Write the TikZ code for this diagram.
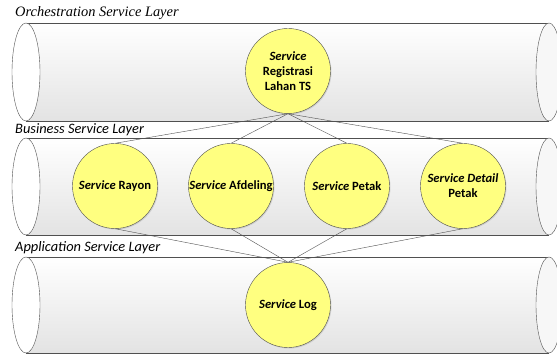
\documentclass[tikz,border=0pt]{standalone}
\usepackage{fontspec}
\setmainfont{Liberation Serif}
\setsansfont{Carlito}
\usepackage{xcolor}
\definecolor{svcyellow}{HTML}{FFFF80}
\definecolor{svcline}{HTML}{505050}
\usetikzlibrary{shadows}

\begin{document}
\begin{tikzpicture}[x=1pt,y=-1pt,node distance=116pt]
  \tikzstyle{svc}=[circle,draw=svcline,thin,fill=svcyellow,minimum size=85pt,inner sep=0pt,align=center,
                   font=\sffamily\bfseries\fontsize{12.6}{15}\selectfont,drop shadow={opacity=0.25,shadow xshift=1pt,shadow yshift=-1pt}]
  \tikzstyle{layer}=[anchor=west,inner sep=0pt,font=\sffamily\itshape\fontsize{14.4}{16}\selectfont]
  \tikzstyle{tube}=[draw=svcline,thin]
  \tikzstyle{e}=[draw=svcline,thin]

  \useasboundingbox (0,0) rectangle (557,358);

  % the three layers
  \foreach \t/\b in {23/121,138/235,257/353}{
    \fill[top color=white,bottom color=gray!22] (26,\t) rectangle (549,\b);
    \draw[tube] (26,\t) -- (549,\t) (26,\b) -- (549,\b);
    \draw[tube,fill=white] (26,{(\t+\b)/2}) ellipse [x radius=14,y radius={(\b-\t)/2}];
    \draw[tube,fill=gray!6] (549,{(\t+\b)/2}) ellipse [x radius=13,y radius={(\b-\t)/2}];
  }

  \node[anchor=west,inner sep=0pt,font=\itshape\fontsize{14.4}{16}\selectfont] (orch) at (15,13) {Orchestration Service Layer};
  \node[layer] (bus) at (15,130) {Business Service Layer};
  \node[layer] (app) at (15,248) {Application Service Layer};

  \node[svc]                 (ts)       at (288,71)  {\textit{Service}\\Registrasi\\Lahan TS};
  \node[svc]                 (rayon)    at (115,186) {\textit{Service} Rayon};
  \node[svc,right of=rayon]  (afdeling)              {\textit{Service} Afdeling};
  \node[svc,right of=afdeling] (petak)               {\textit{Service} Petak};
  \node[svc,right of=petak]  (detail)                {\textit{Service Detail}\\Petak};
  \node[svc]                 (log)      at (288,305) {\textit{Service} Log};

  \foreach \n in {rayon,afdeling,petak,detail}{
    \draw[e] (ts.south) -- (\n.north);
    \draw[e] (\n.south) -- (log.north);
  }
\end{tikzpicture}
\end{document}
